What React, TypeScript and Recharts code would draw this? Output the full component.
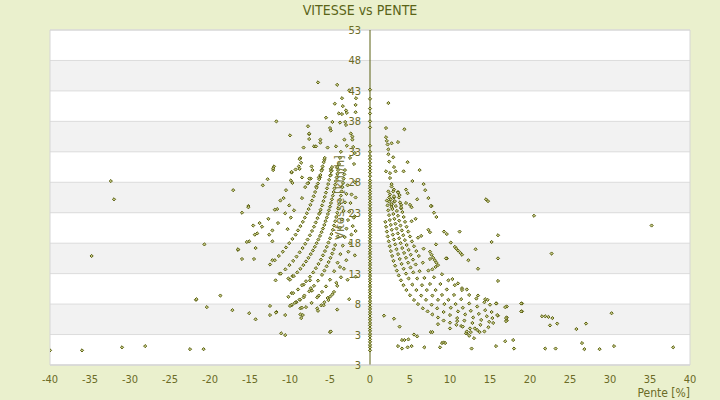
import React from 'react';
import { ScatterChart, Scatter, XAxis, YAxis, CartesianGrid, ReferenceLine, ReferenceArea } from 'recharts';

const FONT = "'DejaVu Sans Condensed', 'DejaVu Sans', sans-serif";
const OLIVE = '#5b6012';
const TEXT = '#6b6b26';

const X_MIN = -40;
const X_MAX = 40;
const Y_MIN = -2;
const Y_MAX = 53;
const CHART_W = 720;
const CHART_H = 400;
const Y_AXIS_W = 1;
const X_AXIS_H = 20;
const MARGIN = { top: 30, right: 30, bottom: 15, left: 49 };

const xTicks = [-40, -35, -30, -25, -20, -15, -10, -5, 0, 5, 10, 15, 20, 25, 30, 35, 40];
const yTicks = [-2, 3, 8, 13, 18, 23, 28, 33, 38, 43, 48, 53];
const yTickLabels = ['3', '3', '8', '13', '18', '23', '28', '33', '38', '43', '48', '53'];

const title = 'VITESSE vs PENTE';
const xLabel = 'Pente [%]';
const yLabel = 'Vitesse [km/h]';

// [pente %, vitesse km/h]
const farLeftPoints = [
  [-40, 0.4], [-36, 0.4], [-31, 0.9], [-28.1, 1.1], [-22.5, 0.6], [-20.8, 0.6], [-21.75, 8.7], [-20.4, 7.5],
  [-17.2, 7.0], [-15.1, 6.5], [-14.3, 5.5], [-12.5, 7.7], [-12.5, 6.2], [-11.7, 6.7], [-10.6, 6.2], [-9.8, 7.8],
  [-9.2, 8.3], [-8.7, 7.3], [-8.5, 7.4], [-8.7, 6.3], [-8.4, 6.2], [-8.6, 5.7], [-6.6, 7.3], [-6.1, 7.8],
  [-5.7, 8.3], [-4.1, 7.1], [-11.1, 3.2], [-10.6, 2.9], [-5.0, 3.4], [-4.9, 3.5], [-2.6, 8.8], [-32.4, 28.2],
  [-32.0, 25.2], [-34.8, 15.9], [-17.1, 26.7], [-15.2, 24.1], [-16.0, 23.0], [-14.6, 20.9], [-13.8, 21.3],
  [-14.1, 19.6], [-15.1, 18.3], [-20.7, 17.8], [-16.5, 16.9], [-14.3, 17.2], [-16.0, 15.4], [-14.5, 15.4],
  [-21.7, 8.8], [-18.7, 9.4],
];

const leftScatterPoints = [
  [-12.1, 30.0], [-9.8, 29.6], [-8.5, 28.8], [-7.4, 28.6], [-6.25, 28.8], [-4.9, 29.2], [-12.8, 28.5], [-13.4, 27.5],
  [-9.7, 27.9], [-8.1, 27.2], [-7.7, 27.9], [-6.7, 27.3], [-15.2, 23.9], [-11.6, 23.6], [-10.8, 25.4], [-10.1, 24.2],
  [-9.5, 23.4], [-8.5, 25.4], [-10.6, 22.9], [-9.9, 22.2], [-12.6, 19.4], [-12.2, 20.1], [-12.2, 18.3], [-11.5, 21.3],
  [-10.3, 20.3], [-12.2, 15.2], [-11.3, 13.0], [-11.8, 11.9], [-10.2, 12.2], [-9.7, 12.6], [-8.3, 11.2], [-9.8, 9.8],
  [-9.25, 8.3], [-8.75, 8.7], [-8.3, 9.1], [-9.8, 7.9], [-11.75, 6.6], [-7.4, 10.6], [-7.25, 10.2], [-7.5, 11.9],
  [-6.4, 9.4], [-2.8, 12.0], [-3.75, 14.1], [-4.2, 11.5], [-5.0, 9.2], [-5.3, 9.0], [-4.5, 10.0], [-1.9, 22.4],
  [-6.25, 23.0], [-6.5, 44.4], [-4.1, 44.0], [-11.7, 38.0], [-7.75, 37.2], [-10, 35.7], [-7.6, 35.9], [-7.6, 35.1],
  [-6.2, 35.0], [-6.2, 34.5], [-7, 33.9], [-5, 36.9], [-4.9, 36.5], [-4.7, 37.9], [-3.75, 37.8], [-4.25, 33.9],
  [-5.3, 33.7], [-8.7, 32.0], [-8.6, 31.2], [-8.9, 30.6], [-8.8, 30.2], [-7.3, 30.6], [-7.2, 30.0], [-5.7, 31.7],
  [-9.8, 29.7], [-7.6, 28.6], [-6.4, 28.8], [-6.0, 30.1], [-4.9, 30.2], [-4.8, 29.9], [-4.1, 30.5], [-12, 30.6],
  [-12.1, 30.3], [-7.8, 27.8], [-3.5, 41.8], [-3.4, 40.5], [-3.0, 39.8], [-2.9, 39.4], [-3.5, 39.2], [-3.1, 37.9],
  [-3.0, 37.4], [-1.75, 41.8], [-1.8, 40.7], [-1.8, 39.5], [-7.6, 36.0], [-6.75, 33.9], [-2.4, 36.0], [-2.2, 35.0],
  [-2.1, 33.8], [-1.9, 32.8], [-4.4, 40.9], [-3.9, 39.3], [-2.6, 43.1], [-5.5, 38.6],
];

const nearAxisLeftPoints = [
  [-1.9, 28.0], [-2.0, 31.0], [-2.2, 35.5], [-2.5, 32.0], [-2.9, 34.0], [-3.2, 35.0],
  [-1.8, 25.5], [-1.8, 20.0], [-1.9, 16.0], [-1.8, 12.5],
];

const leftCurve280 = [
  [-16.5, 17.0], [-15.4, 18.2], [-14.4, 19.4], [-13.5, 20.7], [-12.7, 22.0], [-11.9, 23.5], [-11.2, 25.0],
  [-10.5, 26.7], [-9.9, 28.3], [-9.3, 30.1], [-8.8, 31.8], [-8.3, 33.7],
];
const leftCurve181 = [
  [-12.5, 14.5], [-11.9, 15.2], [-11.4, 15.9], [-10.9, 16.6], [-10.5, 17.3], [-10.1, 18.0], [-9.7, 18.7], [-9.3, 19.4],
  [-9.0, 20.1], [-8.7, 20.8], [-8.4, 21.5], [-8.15, 22.2], [-7.9, 22.9], [-7.67, 23.6], [-7.45, 24.3], [-7.24, 25.0],
  [-7.04, 25.7], [-6.86, 26.4], [-6.68, 27.1], [-6.51, 27.8], [-6.35, 28.5], [-6.2, 29.2], [-6.05, 29.9], [-5.92, 30.6],
  [-5.78, 31.3], [-5.66, 32.0],
];
const leftCurve145 = [
  [-11.15, 13.0], [-10.58, 13.7], [-10.07, 14.4], [-9.6, 15.1], [-9.18, 15.8], [-8.79, 16.5], [-8.43, 17.2],
  [-8.1, 17.9], [-7.8, 18.6], [-7.51, 19.3], [-7.25, 20.0], [-7.0, 20.7], [-6.78, 21.4], [-6.56, 22.1], [-6.36, 22.8],
  [-6.17, 23.5], [-5.99, 24.2], [-5.82, 24.9], [-5.66, 25.6], [-5.51, 26.3], [-5.37, 27.0], [-5.23, 27.7],
  [-5.1, 28.4], [-4.98, 29.1], [-4.87, 29.8], [-4.75, 30.5],
];
const leftCurve120 = [
  [-10.0, 12.0], [-9.52, 12.6], [-9.09, 13.2], [-8.7, 13.8], [-8.33, 14.4], [-8.0, 15.0], [-7.69, 15.6], [-7.41, 16.2],
  [-7.14, 16.8], [-6.9, 17.4], [-6.67, 18.0], [-6.45, 18.6], [-6.25, 19.2], [-6.06, 19.8], [-5.88, 20.4], [-5.71, 21.0],
  [-5.56, 21.6], [-5.41, 22.2], [-5.26, 22.8], [-5.13, 23.4], [-5.0, 24.0], [-4.88, 24.6], [-4.76, 25.2], [-4.65, 25.8],
  [-4.55, 26.4], [-4.44, 27.0], [-4.35, 27.6], [-4.26, 28.2], [-4.17, 28.8], [-4.08, 29.4], [-4.0, 30.0], [-3.87, 31.0],
  [-3.75, 32.0], [-3.64, 33.0],
];
const leftCurve94 = [
  [-10.2, 9.2], [-9.6, 9.8], [-9.0, 10.4], [-8.5, 11.1], [-8.0, 11.75], [-7.5, 12.5], [-7.1, 13.2], [-6.76, 13.9],
  [-6.44, 14.6], [-6.14, 15.3], [-5.88, 16.0], [-5.63, 16.7], [-5.4, 17.4], [-5.19, 18.1], [-5.0, 18.8], [-4.82, 19.5],
  [-4.65, 20.2], [-4.5, 20.9], [-4.35, 21.6], [-4.22, 22.3], [-4.09, 23.0], [-3.97, 23.7], [-3.85, 24.4], [-3.75, 25.1],
  [-3.64, 25.8], [-3.55, 26.5], [-3.46, 27.2], [-3.37, 27.9], [-3.29, 28.6], [-3.21, 29.3], [-3.13, 30.0],
];
const leftCurve77 = [
  [-10.0, 7.7], [-9.4, 8.2], [-8.8, 8.75], [-8.2, 9.4], [-7.6, 10.1], [-7.0, 11.0], [-6.5, 11.85], [-6.0, 12.8],
  [-5.7, 13.5], [-5.42, 14.2], [-5.17, 14.9], [-4.94, 15.6], [-4.72, 16.3], [-4.53, 17.0], [-4.35, 17.7],
  [-4.03, 19.1], [-3.76, 20.5], [-3.52, 21.9], [-3.3, 23.3], [-3.12, 24.7], [-2.95, 26.1], [-2.8, 27.5],
];
const leftCurve60 = [
  [-8.0, 7.5], [-7.3, 8.2], [-6.6, 9.1], [-6.0, 10.0], [-5.5, 10.9], [-5.0, 12.0], [-4.48, 13.4],
  [-4.05, 14.8], [-3.7, 16.2], [-3.41, 17.6], [-3.16, 19.0], [-2.94, 20.4], [-2.75, 21.8], [-2.59, 23.2],
  [-2.44, 24.6], [-2.31, 26.0],
];
const leftCurve45 = [
  [-6.5, 6.9], [-5.8, 7.8], [-5.2, 8.65], [-4.7, 9.6], [-4.09, 11.0], [-3.63, 12.4],
  [-3.26, 13.8], [-2.96, 15.2], [-2.71, 16.6], [-2.5, 18.0], [-2.32, 19.4], [-2.16, 20.8], [-2.03, 22.2],
];

const zeroSlopeSpeeds = [
  0.4, 0.9, 1.3, 1.8, 2.2, 2.7, 3.1, 3.6, 4.0, 4.5, 4.9, 5.4, 5.8, 6.3, 6.7, 7.2, 7.6, 8.1, 8.5, 9.0, 9.4, 9.9, 10.3,
  10.8, 11.2, 11.7, 12.1, 12.6, 13.0, 13.5, 13.9, 14.4, 14.8, 15.3, 15.7, 16.2, 16.6, 17.1, 17.5, 18.0, 18.4, 18.9,
  19.3, 19.8, 20.2, 20.7, 21.1, 21.6, 22.0, 22.5, 22.9, 23.4, 23.8, 24.3, 24.7, 25.2, 25.6, 26.1, 26.5, 27.0, 27.4,
  27.9, 28.3, 29.0, 29.6, 30.1, 30.6, 31.2, 31.8, 32.3, 33.0, 34.0, 37.0, 38.0, 39.3, 40.1, 41.7, 43.2,
];

const nearAxisRightPoints = [
  [2.3, 41.0], [2.0, 36.9], [4.3, 36.7], [2.0, 35.4], [2.1, 34.8], [2.2, 34.2], [2.7, 34.4], [3.5, 34.6], [2.3, 33.4],
  [2.3, 32.6], [2.9, 32.1], [2.4, 31.4], [4.7, 31.3], [3.0, 30.5], [3.2, 29.8], [2.0, 29.8], [2.5, 29.5], [2.5, 28.7],
  [4.2, 29.8], [6.2, 30.0], [5.3, 28.2], [6.7, 27.7], [6.9, 26.7], [2.7, 27.7], [2.7, 27.3], [3.0, 26.8], [2.3, 26.5],
  [4.5, 26.8], [4.7, 26.2], [7.3, 25.4], [5.9, 25.2], [3.5, 26.4], [3.7, 25.9], [2.4, 25.5], [2.4, 24.8], [3.0, 25.5],
  [3.0, 24.8], [2.7, 24.3], [2.7, 23.9], [3.9, 24.3], [3.9, 23.7], [5.0, 24.3], [5.2, 23.9], [7.7, 24.1], [14.5, 25.2],
  [14.75, 24.9],
];

const rightScatterPoints = [
  [7.6, 24.1], [8.0, 23.0], [8.3, 22.3], [5.7, 22.0], [6.4, 19.2], [7.3, 20.2], [7.5, 19.8], [9.25, 19.9], [9.6, 19.5],
  [11.2, 19.9], [16.0, 19.3], [15.2, 18.2], [10.1, 18.1], [8.25, 17.8], [10.6, 17.4], [10.8, 17.1], [11.0, 16.8],
  [11.3, 16.4], [11.5, 16.1], [13.2, 17.0], [7.5, 16.6], [7.7, 16.1], [7.9, 15.6], [8.1, 15.2], [8.3, 14.8], [8.5, 14.4],
  [9.6, 15.5], [12.3, 15.2], [13.5, 13.8], [7.8, 13.7], [16.0, 11.8], [10.3, 12.1], [11.0, 11.4], [11.5, 10.6],
  [12.1, 10.4], [13.5, 9.4], [14.4, 8.8], [14.7, 8.7], [15.8, 8.1], [17.1, 7.6], [19.0, 8.1], [19.0, 6.8], [17.1, 5.8],
  [17.1, 5.3], [16.0, 6.1], [1.75, 6.1], [3.0, 5.6], [3.7, 4.3], [20.5, 22.5], [35.2, 20.9], [22.7, 16.3], [16.0, 15.5],
  [9.5, 15.5],
];

const rightBottomPoints = [
  [4.0, 2.1], [4.3, 2.1], [3.5, 1.1], [4.0, 0.7], [4.7, 0.9], [5.2, 1.1], [4.8, 2.2], [5.5, 3.0], [5.9, 2.7], [6.8, 0.9],
  [8.75, 0.9], [9.0, 1.6], [9.2, 1.7], [9.4, 1.6], [7.6, 3.4], [7.8, 3.4], [8.5, 4.7], [10.0, 4.0], [10.9, 5.2],
  [12.1, 3.2], [12.6, 3.4], [13.1, 4.0], [13.7, 3.4], [12.7, 0.7], [15.75, 1.1], [15.9, 6.2], [15.75, 8.1], [16.9, 7.5],
  [17.0, 5.7], [17.0, 5.2], [16.9, 1.9], [17.9, 2.1], [18.0, 0.7], [18.9, 8.1], [18.9, 6.8], [21.5, 6.0], [21.9, 6.0],
  [22.3, 5.9], [22.8, 5.7], [22.5, 4.5], [23.4, 4.8], [21.9, 0.7], [23.2, 0.7], [25.8, 3.9], [27.0, 4.8], [26.5, 1.6],
  [26.8, 0.6], [28.7, 0.6], [30.2, 6.5], [30.5, 1.1], [37.9, 0.9], [12.4, 2.8], [13.0, 2.4], [12.0, 3.2], [12.1, 3.5],
  [11.4, 4.4],
];

const rightCurve52 = [
  [1.92, 21.5], [2.01, 20.7], [2.11, 19.9], [2.22, 19.1], [2.34, 18.3], [2.47, 17.5], [2.61, 16.7], [2.77, 15.9],
  [2.94, 15.1], [3.14, 14.3], [3.35, 13.5], [3.59, 12.7], [3.87, 11.9], [4.18, 11.1], [4.55, 10.3], [5.0, 9.45],
  [5.5, 8.67], [6.0, 8.0], [6.6, 7.3], [7.2, 6.8], [7.8, 6.3], [8.5, 5.8], [9.2, 5.3], [10.0, 4.95], [10.8, 4.6],
  [11.6, 4.3], [12.5, 4.0], [13.4, 3.74], [14.3, 3.51],
];
const rightCurve65 = [
  [2.1, 25.0], [2.19, 24.2], [2.28, 23.4], [2.38, 22.6], [2.48, 21.8], [2.6, 21.0], [2.72, 20.2], [2.85, 19.4],
  [2.99, 18.6], [3.15, 17.8], [3.32, 17.0], [3.51, 16.2], [3.72, 15.4], [3.95, 14.6], [4.21, 13.8], [4.5, 13.0],
  [4.83, 12.2], [5.3, 11.2], [5.8, 10.3], [6.4, 9.4], [7.0, 8.7], [7.7, 7.9], [8.4, 7.3], [9.2, 6.7], [10.0, 6.2],
  [10.9, 5.7], [11.8, 5.3], [12.8, 4.9], [13.8, 4.6], [14.8, 4.2],
];
const rightCurve78 = [
  [2.5, 26.0], [2.6, 25.2], [2.7, 24.4], [2.8, 23.6], [2.92, 22.8], [3.05, 22.0], [3.18, 21.2], [3.32, 20.4],
  [3.48, 19.6], [3.65, 18.8], [3.83, 18.0], [4.03, 17.2], [4.26, 16.4], [4.5, 15.6], [4.77, 14.8], [5.07, 14.0],
  [5.41, 13.2], [5.9, 12.2], [6.5, 11.1], [7.1, 10.3], [7.8, 9.4], [8.5, 8.7], [9.3, 8.0], [10.1, 7.4], [11.0, 6.8],
  [11.9, 6.3], [12.9, 5.8], [13.9, 5.4], [14.9, 5.1], [15.4, 4.9],
];
const rightCurve90 = [
  [2.9, 26.5], [3.0, 25.7], [3.11, 24.9], [3.23, 24.1], [3.36, 23.3], [3.5, 22.5], [3.65, 21.7], [3.81, 20.9],
  [3.98, 20.1], [4.16, 19.3], [4.36, 18.5], [4.58, 17.7], [4.83, 16.9], [5.09, 16.1], [5.38, 15.3], [5.71, 14.5],
  [6.2, 13.4], [6.8, 12.3], [7.5, 11.3], [8.2, 10.3], [9.0, 9.5], [9.8, 8.7], [10.7, 8.0], [11.6, 7.4], [12.6, 6.9],
  [13.6, 6.4], [14.6, 6.0], [15.3, 5.7],
];
const rightCurve105 = [
  [3.5, 26.3], [3.62, 25.5], [3.75, 24.7], [3.89, 23.9], [4.05, 23.1], [4.21, 22.3], [4.38, 21.5], [4.57, 20.7],
  [4.78, 19.9], [5.0, 19.1], [5.24, 18.3], [5.5, 17.5], [5.79, 16.7], [6.1, 15.9], [6.6, 14.8], [7.3, 13.5], [8.0, 12.4],
  [8.8, 11.3], [9.6, 10.4], [10.5, 9.5], [11.4, 8.8], [12.4, 8.1], [13.4, 7.6], [14.4, 7.0], [15.2, 6.7],
];
const rightCurve123 = [
  [4.5, 24.6], [5.2, 21.6], [6.0, 18.9], [6.7, 17.1], [7.5, 15.4], [8.2, 14.1], [9.0, 12.9], [9.8, 11.9], [10.6, 11.1],
  [11.5, 10.3], [12.4, 9.5], [13.3, 8.9], [14.3, 8.3], [15.0, 7.9],
];

const pointGroups = [
  farLeftPoints, leftScatterPoints, nearAxisLeftPoints, leftCurve280, leftCurve181, leftCurve145, leftCurve120,
  leftCurve94, leftCurve77, leftCurve60, leftCurve45, zeroSlopeSpeeds.map((v) => [0, v]), nearAxisRightPoints,
  rightScatterPoints, rightBottomPoints, rightCurve52, rightCurve65, rightCurve78, rightCurve90, rightCurve105,
  rightCurve123,
];

const data = pointGroups.flat().map(([x, y]) => ({ x, y }));

const PLOT_LEFT = MARGIN.left + Y_AXIS_W;
const PLOT_W = CHART_W - PLOT_LEFT - MARGIN.right;
const ZERO_X = PLOT_LEFT + (PLOT_W * (0 - X_MIN)) / (X_MAX - X_MIN);

const Marker = (props: any) => {
  const { cx, cy } = props;
  if (cx == null || cy == null) return null;
  const r = 1.6;
  return (
    <path
      d={`M${cx},${cy - r}L${cx + r},${cy}L${cx},${cy + r}L${cx - r},${cy}Z`}
      fill="#c6cb86"
      stroke={OLIVE}
      strokeWidth={1}
    />
  );
};

const YTick = (props: any) => {
  const { y, payload } = props;
  const i = yTicks.indexOf(payload ? payload.value : NaN);
  return (
    <text x={ZERO_X - 9} y={y} dy="0.36em" textAnchor="end" fill={TEXT} fontSize={11} fontFamily={FONT}>
      {i >= 0 ? yTickLabels[i] : ''}
    </text>
  );
};

// Y-axis title, placed against the zero line reported by the reference line's viewBox
const YLabel = (props: any) => {
  const vb = props.viewBox || {};
  const cx = (typeof vb.x === 'number' ? vb.x : ZERO_X) - 31;
  const cy = (typeof vb.y === 'number' ? vb.y : 30) + (typeof vb.height === 'number' ? vb.height : 335) / 2;
  return (
    <g>
      <text
        x={0}
        y={0}
        dy="0.35em"
        textAnchor="middle"
        transform={`translate(${cx},${cy}) rotate(-90)`}
        fill="#7d7d45"
        fontSize={13}
        fontFamily={FONT}
      >
        {yLabel}
      </text>
    </g>
  );
};

const XLabel = (props: any) => {
  const vb = props.viewBox || {};
  return (
    <text x={vb.x + vb.width} y={vb.y + 32} textAnchor="end" fill={TEXT} fontSize={12} fontFamily={FONT}>
      {xLabel}
    </text>
  );
};

export default function App() {
  return (
    <div
      style={{
        position: 'absolute',
        left: 0,
        top: 0,
        width: CHART_W,
        height: CHART_H,
        background: '#EAF0CD',
        overflow: 'hidden',
      }}
    >
      <div
        style={{
          position: 'absolute',
          left: 0,
          top: 1,
          width: CHART_W,
          textAlign: 'center',
          fontFamily: FONT,
          fontSize: 14,
          color: '#5a6418',
          lineHeight: '18px',
        }}
      >
        {title}
      </div>
      <ScatterChart width={CHART_W} height={CHART_H} margin={MARGIN}>
        <CartesianGrid
          vertical={false}
          horizontalFill={['#FFFFFF', '#F2F2F2']}
          fillOpacity={1}
          stroke="#DCDCDC"
        />
        <ReferenceArea x1={X_MIN} x2={X_MAX} y1={Y_MIN} y2={Y_MAX} fill="none" stroke="#D6D6D6" ifOverflow="visible" />
        <XAxis
          type="number"
          dataKey="x"
          domain={[X_MIN, X_MAX]}
          ticks={xTicks}
          interval={0}
          allowDataOverflow
          height={X_AXIS_H}
          tickLine={false}
          tickMargin={4}
          axisLine={{ stroke: '#D6D6D6' }}
          tick={{ fill: TEXT, fontSize: 11, fontFamily: FONT }}
          label={(p: any) => <XLabel {...p} />}
        />
        <YAxis
          type="number"
          dataKey="y"
          domain={[Y_MIN, Y_MAX]}
          ticks={yTicks}
          interval={0}
          allowDataOverflow
          width={Y_AXIS_W}
          axisLine={false}
          tickLine={false}
          tick={<YTick />}
        />
        <Scatter data={data} shape={(p: any) => <Marker {...p} />} isAnimationActive={false} />
        <ReferenceLine
          x={0}
          stroke={OLIVE}
          strokeWidth={1}
          ifOverflow="visible"
          label={(p: any) => <YLabel {...p} />}
        />
      </ScatterChart>
    </div>
  );
}
